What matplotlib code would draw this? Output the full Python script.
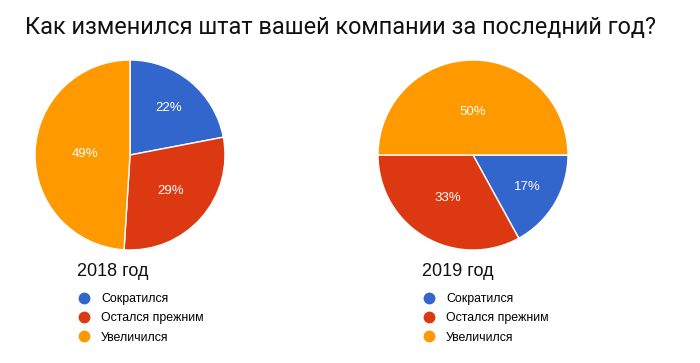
import matplotlib
matplotlib.use('Agg')
import numpy as np
import matplotlib.pyplot as plt
from matplotlib.lines import Line2D

title = 'Как изменился штат вашей компании за последний год?'
categories = ['Сократился', 'Остался прежним', 'Увеличился']
years = ['2018 год', '2019 год']
values_2018 = [22, 29, 49]
values_2019 = [17, 33, 50]
colors = ['#3366CC', '#DC3912', '#FF9900']

fig = plt.figure(figsize=(7, 3.63), dpi=100)
fig.text(0.486, 0.923, title, ha='center', va='center',
         fontsize=16.9, family='Roboto', color='#111111')

# left edge of pie, start angle, values, name, legend x, label radii
layout = [(35, 90, values_2018, years[0], 77, [0.64, 0.57, 0.47]),
          (378, 0, values_2019, years[1], 422, [0.67, 0.52, 0.45])]

for left, start, vals, name, leg_x, dists in layout:
  ax = fig.add_axes([left / 700, 113 / 363, 190 / 700, 190 / 363])
  wedges, _ = ax.pie(vals, colors=colors, startangle=start,
                     counterclock=False,
                     wedgeprops=dict(edgecolor='white', linewidth=1))
  for w, v, d in zip(wedges, vals, dists):
    mid = np.deg2rad((w.theta1 + w.theta2) / 2)
    ax.text(d * np.cos(mid), d * np.sin(mid), f'{v}%', ha='center',
            va='center', color='white', fontsize=9.5,
            family='Liberation Sans')
  ax.set_xlim(-1, 1)
  ax.set_ylim(-1, 1)
  ax.set_aspect('equal')

  fig.text(leg_x / 700, 1 - 272 / 363, name, ha='left', va='center',
           fontsize=13, family='Liberation Sans', color='#111111')
  handles = [Line2D([], [], marker='o', linestyle='', markersize=7.5,
                    markerfacecolor=c, markeredgecolor=c) for c in colors]
  fig.legend(handles, categories, loc='upper left',
             bbox_to_anchor=((leg_x - 5) / 700, 1 - 288 / 363),
             frameon=False,
             prop={'family': 'Liberation Sans', 'size': 8.9},
             handletextpad=0.75, labelspacing=0.6,
             handlelength=1.2, borderaxespad=0)

fig.savefig('out.png', dpi=100, facecolor='white')
